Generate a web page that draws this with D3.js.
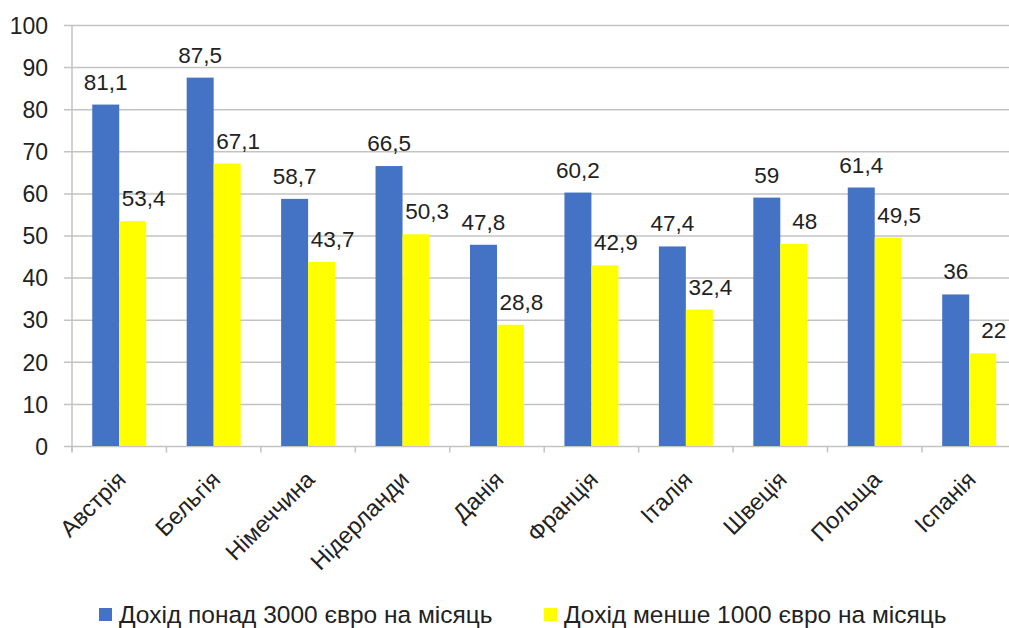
<!DOCTYPE html>
<html>
<head>
<meta charset="utf-8">
<script src="https://cdn.jsdelivr.net/npm/d3@7"></script>
<style>
	body { margin: 0; background: #fff; }
	svg { display: block; }
	text { font-family: "Liberation Sans", Arial, sans-serif; }
</style>
</head>
<body>
<script>
	// data
	const countries = ["Австрія", "Бельгія", "Німеччина", "Нідерланди", "Данія", "Франція", "Італія", "Швеція", "Польща", "Іспанія"];
	const seriesNames = ["Дохід понад 3000 євро на місяць", "Дохід менше 1000 євро на місяць"];
	const highIncome = [81.1, 87.5, 58.7, 66.5, 47.8, 60.2, 47.4, 59, 61.4, 36];
	const lowIncome = [53.4, 67.1, 43.7, 50.3, 28.8, 42.9, 32.4, 48, 49.5, 22];
	const yTicks = [0, 10, 20, 30, 40, 50, 60, 70, 80, 90, 100];
	const colors = ["#4472C4", "#FFFF00"];

	let w = 1009;
	let h = 628;

	const svg = d3.select("body")
		.append("svg")
		.attr("width", w)
		.attr("height", h);

	// one band per country, two bars inside each band
	const x0 = d3.scaleBand()
		.domain(countries)
		.range([72, 1016.4])
		.paddingInner(0)
		.paddingOuter(0);

	const x1 = d3.scaleBand()
		.domain([0, 1])
		.range([0, x0.bandwidth()])
		.paddingInner(0)
		.paddingOuter(0.75);

	const yScale = d3.scaleLinear()
		.domain([0, 100])
		.range([446, 25]);

	// gridlines and y labels
	const yAxis = d3.axisLeft(yScale)
		.tickValues(yTicks)
		.tickSize(-(w - 64))
		.tickPadding(16)
		.tickFormat(d => d);

	const gy = svg.append("g")
		.attr("transform", "translate(64,0)")
		.call(yAxis);
	gy.select(".domain").remove();
	gy.selectAll(".tick line").attr("stroke", "#c3c3c3").attr("stroke-width", 1.5);
	gy.selectAll(".tick text")
		.style("font-size", "23px")
		.attr("fill", "#222")
		.attr("x", -16)
		.attr("dy", "0.36em");

	// vertical axis line
	svg.append("line")
		.attr("x1", 72).attr("x2", 72)
		.attr("y1", yScale(100)).attr("y2", yScale(0) + 6)
		.attr("stroke", "#c3c3c3")
		.attr("stroke-width", 1.5);

	// category tick marks between bands
	const edges = countries.map(c => x0(c)).concat([x0(countries[countries.length - 1]) + x0.bandwidth()]);
	svg.append("g")
		.selectAll("line")
		.data(edges)
		.enter()
		.append("line")
		.attr("x1", d => d).attr("x2", d => d)
		.attr("y1", yScale(0)).attr("y2", yScale(0) + 6.5)
		.attr("stroke", "#c3c3c3")
		.attr("stroke-width", 1.5);

	// bars
	const rows = countries.map((c, i) => ({ country: c, values: [highIncome[i], lowIncome[i]] }));

	const groups = svg.append("g")
		.selectAll("g")
		.data(rows)
		.enter()
		.append("g")
		.attr("transform", d => "translate(" + x0(d.country) + ",0)");

	groups.selectAll("rect")
		.data(d => d.values.map((v, k) => ({ k: k, v: v })))
		.enter()
		.append("rect")
		.attr("x", d => x1(d.k))
		.attr("y", d => yScale(d.v))
		.attr("width", x1.bandwidth())
		.attr("height", d => yScale(0) - yScale(d.v))
		.attr("fill", d => colors[d.k]);

	// value labels (yellow ones sit a bit to the right like in the original)
	groups.selectAll("text")
		.data(d => d.values.map((v, k) => ({ k: k, v: v })))
		.enter()
		.append("text")
		.attr("x", d => x1(d.k) + x1.bandwidth() / 2 + (d.k === 1 ? 11 : 0))
		.attr("y", d => yScale(d.v) - 15)
		.attr("text-anchor", "middle")
		.attr("fill", "#222")
		.style("font-size", "22.5px")
		.text(d => String(d.v).replace(".", ","));

	// rotated country labels
	svg.append("g")
		.selectAll("text")
		.data(countries)
		.enter()
		.append("text")
		.attr("transform", d => "translate(" + (x0(d) + x0.bandwidth() / 2 + 8) + ",481) rotate(-45)")
		.attr("text-anchor", "end")
		.attr("fill", "#222")
		.style("font-size", "23.5px")
		.text(d => d);

	// legend
	const legendX = [99, 544];
	const legend = svg.append("g")
		.selectAll("g")
		.data(seriesNames)
		.enter()
		.append("g")
		.attr("transform", (d, i) => "translate(" + legendX[i] + ",0)");

	legend.append("rect")
		.attr("x", 0).attr("y", 608)
		.attr("width", 13).attr("height", 13)
		.attr("fill", (d, i) => colors[i]);

	legend.append("text")
		.attr("x", 20).attr("y", 623)
		.attr("fill", "#222")
		.style("font-size", "24.5px")
		.text(d => d);
</script>
</body>
</html>
